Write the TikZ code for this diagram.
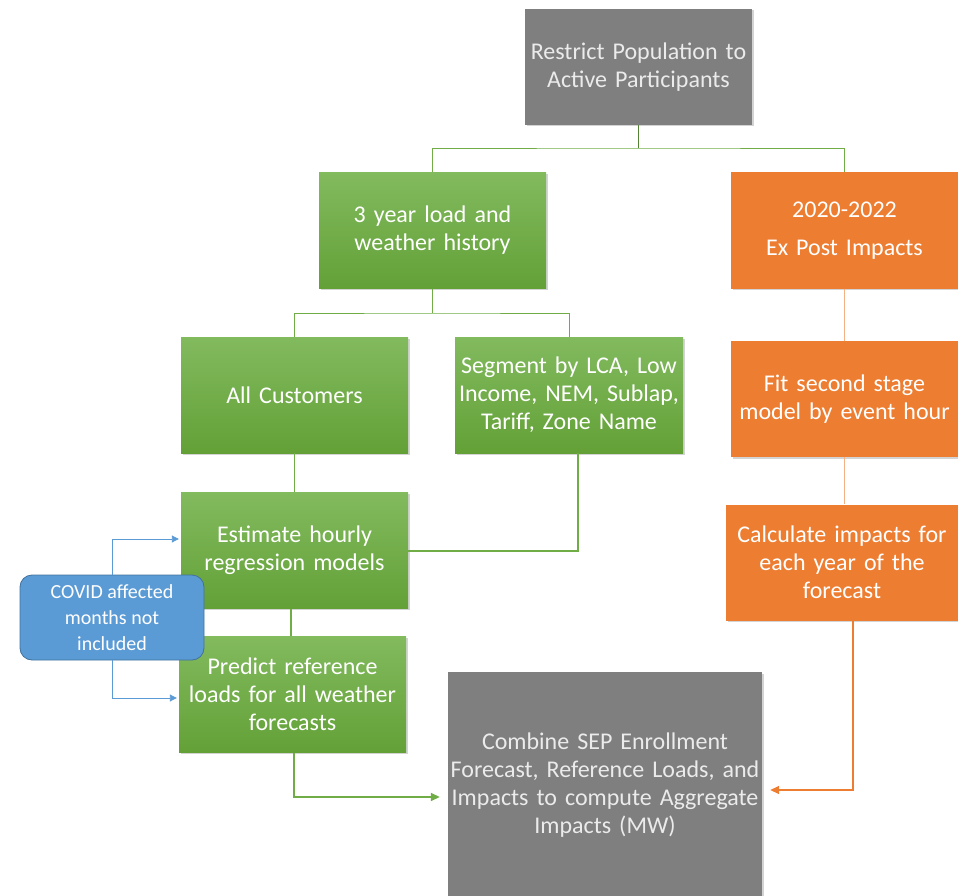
\documentclass[tikz,border=0pt]{standalone}
\usepackage{fontspec}
\setmainfont{Carlito}
\usepackage{tikz}
\usetikzlibrary{arrows.meta, positioning, calc, shadows}
\definecolor{FlowGray}{RGB}{127, 127, 127}
\definecolor{FlowGrayText}{RGB}{235, 235, 235}
\definecolor{FlowGreenTop}{RGB}{130, 186, 94}
\definecolor{FlowGreenBot}{RGB}{99, 161, 55}
\definecolor{FlowGreenLine}{RGB}{112, 173, 71}
\definecolor{FlowGreenDark}{RGB}{84, 130, 53}
\definecolor{FlowOrange}{RGB}{237, 125, 49}
\definecolor{FlowOrangeLight}{RGB}{244, 177, 131}
\definecolor{FlowBlue}{RGB}{91, 155, 213}
\definecolor{FlowBlueDark}{RGB}{65, 113, 156}

\tikzset{
  flowbox/.style={rectangle, inner xsep=0pt, inner ysep=0pt, align=center,
    minimum height=116pt, text=white,
    font=\fontsize{24}{28}\selectfont,
    drop shadow={shadow xshift=1.5pt, shadow yshift=-1.5pt, opacity=0.35}},
  greenbox/.style={flowbox, top color=FlowGreenTop, bottom color=FlowGreenBot},
  orangebox/.style={flowbox, fill=FlowOrange},
  graybox/.style={flowbox, fill=FlowGray, text=FlowGrayText},
  notebox/.style={rectangle, rounded corners=12pt, fill=FlowBlue, draw=FlowBlueDark,
    line width=0.8pt, text=white, align=center, inner sep=0pt,
    font=\fontsize{20}{26}\selectfont},
  greenline/.style={FlowGreenLine, line width=0.9pt},
  orangeline/.style={FlowOrangeLight, line width=0.9pt},
  blueline/.style={FlowBlue, line width=0.9pt, -{Triangle[length=7pt, width=7pt]}}
}

\begin{document}
\begin{tikzpicture}[x=1pt,y=-1pt]
  \path[use as bounding box] (0,0) rectangle (958,896);

  % Top of the flow
  \node[graybox, text width=227pt] (restrict) at (638.5,67)
    {Restrict Population to\\Active Participants};

  % Green branch
  \node[greenbox, text width=227pt] (history) at (432.5,230.5)
    {3 year load and\\weather history};
  \node[greenbox, text width=227pt] (allcust) at (294.5,395) {All Customers};
  \node[greenbox, text width=228pt] (segment) at (569,395)
    {Segment by LCA, Low\\Income, NEM, Sublap,\\Tariff, Zone Name};
  \node[greenbox, text width=227pt] (estimate) at (294.5,550.5)
    {Estimate hourly\\regression models};
  \node[greenbox, text width=227pt] (predict) at (292.5,694.5)
    {Predict reference\\loads for all weather\\forecasts};

  % Orange branch
  \node[orangebox, text width=227pt] (expost) at (844.5,230.5)
    {2020-2022\\[10pt]Ex Post Impacts};
  \node[orangebox, text width=227pt] (fitstage) at (844.5,399)
    {Fit second stage\\model by event hour};
  \node[orangebox, text width=232pt] (calcimp) at (842,562.5)
    {Calculate impacts for\\each year of the\\forecast};

  % Final box
  \node[graybox, text width=314pt, minimum height=226pt] (combine) at (605,785)
    {Combine SEP Enrollment\\Forecast, Reference Loads, and\\Impacts to compute Aggregate\\Impacts (MW)};

  % Note on the left
  \node[notebox, minimum width=184pt, minimum height=85pt] (covid) at (112,617.5)
    {COVID affected\\months not\\included};

  % Tree connectors
  \coordinate (jtop) at (638.5,148);
  \coordinate (jmid) at (432.5,313);
  \draw[FlowGreenDark, line width=0.9pt] (restrict.south) -- (jtop);
  \draw[greenline] (history.north) |- (jtop) -| (expost.north);
  \draw[greenline] (history.south) -- (jmid);
  \draw[greenline] (allcust.north) |- (jmid) -| (segment.north);
  \draw[greenline] (allcust.south) -- (estimate.north);
  \draw[greenline, line width=2pt] ([xshift=9pt]segment.south) |- (estimate.east);
  \draw[greenline, line width=2pt] ([xshift=-1.5pt]estimate.south -| predict.north) -- ([xshift=-1.5pt]predict.north);
  \draw[greenline, line width=1.6pt, -{Triangle[length=9pt, width=8pt]}, shorten >=8pt]
    ([xshift=1.5pt]predict.south) |- ([yshift=-12pt]combine.west);

  \draw[orangeline] (expost.south) -- (fitstage.north);
  \draw[orangeline] (fitstage.south) -- (fitstage.south |- calcimp.north);
  \draw[FlowOrange, line width=1.6pt, -{Triangle[length=9pt, width=8pt]}, shorten >=8pt]
    ([xshift=11pt]calcimp.south) |- ([yshift=-5pt]combine.east);

  % Note arrows
  \draw[blueline, shorten >=2pt] (covid.north) |- ([yshift=11.5pt]estimate.west);
  \draw[blueline, shorten >=2pt] (covid.south) |- ([yshift=-3.5pt]predict.west);
\end{tikzpicture}
\end{document}
